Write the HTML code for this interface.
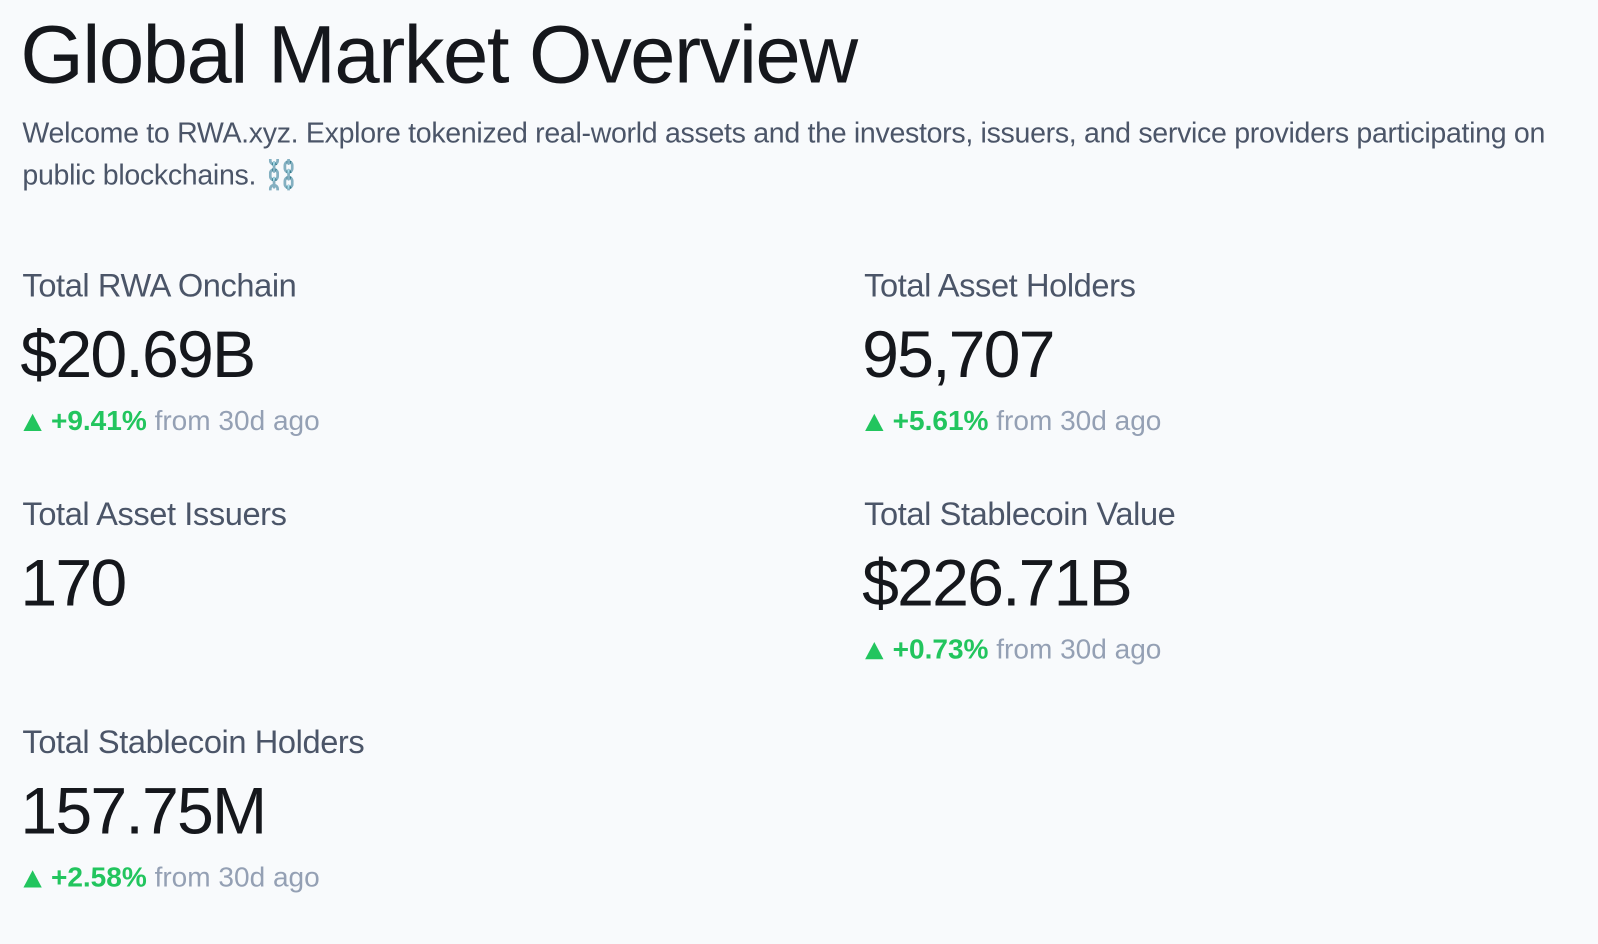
<!DOCTYPE html>
<html><head><meta charset="utf-8"><style>
html,body{margin:0;padding:0;background:#f8fafc;width:1598px;height:944px;overflow:hidden;font-family:"Liberation Sans",Arial,sans-serif;}
#w{position:absolute;left:0;top:0;width:1568px;height:926px;transform:scale(1.019);transform-origin:0 0;}
.t{position:absolute;white-space:nowrap;line-height:1;}
h1{position:absolute;left:20px;top:14px;margin:0;font-size:80px;font-weight:400;letter-spacing:-1.5px;color:#15171c;line-height:80px;white-space:nowrap;}
.sub{left:22px;font-size:28px;color:#4b5568;letter-spacing:-0.3px;}
.lab{font-size:32px;color:#4b5568;letter-spacing:-0.4px;}
.val{font-size:65px;color:#15171c;letter-spacing:-1.8px;}
.chg{font-size:27.5px;color:#94a0b4;}
.chg b{color:#22c55e;}
.tri{display:inline-block;width:0;height:0;border-left:9px solid transparent;border-right:9px solid transparent;border-bottom:17px solid #22c55e;margin-right:9px;vertical-align:-1px;}
</style></head><body><div id="w">
<h1>Global Market Overview</h1>
<div class="t sub" style="top:117px">Welcome to RWA.xyz. Explore tokenized real-world assets and the investors, issuers, and service providers participating on</div>
<div class="t sub" style="top:158px">public blockchains. ⛓️</div>

<div class="t lab" style="left:22px;top:264px">Total RWA Onchain</div>
<div class="t val" style="left:20px;top:315px">$20.69B</div>
<div class="t chg" style="left:23px;top:399px"><span class="tri"></span><b>+9.41%</b> from 30d ago</div>

<div class="t lab" style="left:848px;top:264px">Total Asset Holders</div>
<div class="t val" style="left:846px;top:315px">95,707</div>
<div class="t chg" style="left:849px;top:399px"><span class="tri"></span><b>+5.61%</b> from 30d ago</div>

<div class="t lab" style="left:22px;top:488px">Total Asset Issuers</div>
<div class="t val" style="left:20px;top:539px">170</div>

<div class="t lab" style="left:848px;top:488px">Total Stablecoin Value</div>
<div class="t val" style="left:846px;top:539px">$226.71B</div>
<div class="t chg" style="left:849px;top:623px"><span class="tri"></span><b>+0.73%</b> from 30d ago</div>

<div class="t lab" style="left:22px;top:712px">Total Stablecoin Holders</div>
<div class="t val" style="left:20px;top:763px">157.75M</div>
<div class="t chg" style="left:23px;top:847px"><span class="tri"></span><b>+2.58%</b> from 30d ago</div>
</div></body></html>
